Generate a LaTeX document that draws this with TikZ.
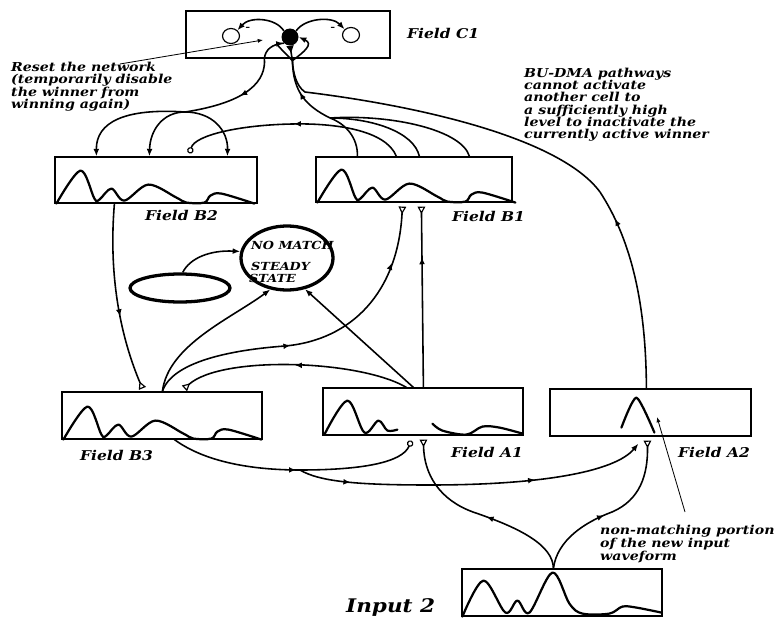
\documentclass[tikz,border=0pt]{standalone}
\usepackage{fontspec}
\newfontfamily\lblfont{DejaVu Serif}[FakeStretch=1.15]
\usetikzlibrary{arrows.meta,decorations.markings,calc,shapes.geometric}
\newlength\pxu
\setlength\pxu{0.03cm}

\tikzset{
  fieldbox/.style={draw, line width=1pt, inner sep=0pt, minimum width=200\pxu, minimum height=47\pxu},
  wave/.style={line width=1.9pt, line join=round, line cap=round},
  conn/.style={line width=1.35pt},
  pointer/.style={line width=0.7pt},
  flabel/.style={font=\lblfont\bfseries\itshape\fontsize{11.5}{12}\selectfont, inner sep=0pt, anchor=west},
  note/.style={font=\lblfont\bfseries\itshape\fontsize{10.5}{10}\selectfont, inner sep=0pt, align=left, anchor=north west},
  statefont/.style={font=\lblfont\bfseries\itshape\fontsize{9.5}{9}\selectfont, inner sep=0pt, anchor=west},
  fat/.style={draw, ellipse, line width=2.8pt, inner sep=0pt},
  tipL/.style={-{Latex[length=6.5pt,width=5pt]}},
  synopen/.style={-{Triangle[open,reversed,length=6.5pt,width=6.5pt,line width=1pt]}},
  synfill/.style={-{Triangle[reversed,length=6pt,width=6pt]}},
  circopen/.style={-{Circle[open,length=5.5pt,width=5.5pt,line width=1pt]}},
  midarrow/.style={postaction={decorate}, decoration={markings,
      mark=at position #1 with {\arrow{Latex[length=6pt,width=5pt]}}}},
  twoarrows/.style 2 args={postaction={decorate}, decoration={markings,
      mark=at position #1 with {\arrow{Latex[length=6pt,width=5pt]}},
      mark=at position #2 with {\arrow{Latex[length=6pt,width=5pt]}}}},
  % activity profiles, drawn from the lower left corner of a field
  bprofile/.pic={\draw[wave] plot[smooth,tension=0.55] coordinates
      {(2,0) (26,-33) (40,-5) (45,-4) (57,-15) (70,-3) (94,-19) (122,-6)
       (132,-1) (150,-1) (156,-8) (167,-10) (200,0)};},
  inprofile/.pic={\draw[wave] plot[smooth,tension=0.55] coordinates
      {(1,0) (22,-36) (44,-4) (56,-16) (68,-4) (91,-44) (108,-13) (121,-3)
       (148,-3) (161,-10) (175,-9) (200,-4)};},
  a1left/.pic={\draw[wave] plot[smooth,tension=0.55] coordinates
      {(2,-1) (25,-35) (42,-3) (56,-15) (65,-5) (75,-6)};},
  a1right/.pic={\draw[wave] plot[smooth,tension=0.55] coordinates
      {(110,-12) (120,-5) (144,-1) (160,-9) (177,-8) (200,-2)};},
  a2peak/.pic={\draw[wave] plot[smooth,tension=0.4] coordinates
      {(72,-9) (87,-39) (105,-4)};},
}

\begin{document}
\begin{tikzpicture}[x=0.03cm,y=-0.03cm]
\useasboundingbox (0,0) rectangle (775,619);
\fill[white] (0,0) rectangle (775,619);

% ---------- fields ----------
\node[fieldbox, minimum width=204\pxu] (c1) at (288,34.5) {};
\node[fieldbox, minimum width=202\pxu, minimum height=46\pxu] (b2) at (156,180) {};
\node[fieldbox, minimum width=196\pxu, minimum height=45\pxu] (b1) at (414,179.5) {};
\node[fieldbox] (b3) at (162,415.5) {};
\node[fieldbox] (a1) at (423,411.5) {};
\node[fieldbox, minimum width=201\pxu] (a2) at (650.5,412.5) {};
\node[fieldbox] (in2) at (562,592.5) {};

\pic at (b2.south west) {bprofile};
\pic at (b1.south west) {bprofile};
\pic at (b3.south west) {bprofile};
\pic at (in2.south west) {inprofile};
\pic at (a1.south west) {a1left};
\pic at (a1.south west) {a1right};
\pic at (a2.south west) {a2peak};

% ---------- labels ----------
\node[flabel] (lc1) at (407,33) {Field C1};
\node[flabel] (lb2) at (145,215) {Field B2};
\node[flabel] (lb1) at (452,216) {Field B1};
\node[flabel] (lb3) at (80,455) {Field B3};
\node[flabel] (la1) at (451,452) {Field A1};
\node[flabel] (la2) at (678,452) {Field A2};
\node[flabel, font=\lblfont\bfseries\itshape\fontsize{16}{18}\selectfont] (lin) at (346,607) {Input 2};

\node[note] (reset) at (11,62) {Reset the network\\(temporarily disable\\the winner from\\winning again)};
\node[note, font=\lblfont\bfseries\itshape\fontsize{10.5}{10.4}\selectfont] (budma) at (524,68)
  {BU-DMA pathways\\cannot activate\\another cell to\\a sufficiently high\\level to inactivate the\\currently active winner};
\node[note] (nonm) at (600,525)
  {non-matching portion\\of the new input\\waveform};

% ---------- state ellipses ----------
\node[statefont] (tnm) at (251,245) {NO MATCH};
\node[statefont] (tst) at (251,266) {STEADY};
\node[statefont] (tsa) at (249,278) {STATE};
\node[fat, minimum width=92\pxu, minimum height=64\pxu] (nm) at (287,258) {};
\node[fat, minimum width=100\pxu, minimum height=28\pxu] (nel) at (180,288) {};

% ---------- inside field C1 ----------
\node[circle, fill, inner sep=0pt, minimum size=17\pxu] (dot) at (290,37) {};
\node[draw, ellipse, line width=1pt, minimum width=17\pxu, minimum height=15\pxu] (cl) at (231,36) {};
\node[draw, ellipse, line width=1pt, minimum width=17\pxu, minimum height=15\pxu] (cr) at (351,35) {};
\node[font=\bfseries, inner sep=0pt] (ml) at (248,29) {-};
\node[font=\bfseries, inner sep=0pt] (mr) at (333,29) {-};
\draw[conn, tipL] (dot.north west) .. controls (276,18) and (250,16) .. (cl.north east);
\draw[conn, tipL] (dot.north east) .. controls (305,18) and (332,16) .. (cr.north west);

% ---------- ports ----------
\coordinate (c1l) at ($(c1.south west)+(79,0)$);
\coordinate (c1s) at ($(c1.south west)+(107,2)$);
\coordinate (b2p1) at ($(b2.north west)+(42,0)$);
\coordinate (b2p2) at ($(b2.north west)+(95,0)$);
\coordinate (b2p3) at ($(b2.north west)+(173,0)$);
\coordinate (b2in) at ($(b2.north west)+(135,-3)$);
\coordinate (b2out) at ($(b2.south west)+(60,0)$);
\coordinate (b1t1) at ($(b1.north west)+(42,0)$);
\coordinate (b1t2) at ($(b1.north west)+(81,0)$);
\coordinate (b1t3) at ($(b1.north west)+(104,0)$);
\coordinate (b1t4) at ($(b1.north west)+(154,0)$);
\coordinate (b1s1) at ($(b1.south west)+(87,4)$);
\coordinate (b1s2) at ($(b1.south west)+(106,4)$);
\coordinate (b3t1) at ($(b3.north west)+(81,-3)$);
\coordinate (b3t2) at ($(b3.north west)+(123,-3)$);
\coordinate (b3out) at ($(b3.north west)+(101,0)$);
\coordinate (b3b) at ($(b3.south west)+(113,0)$);
\coordinate (a1o1) at ($(a1.north west)+(101,0)$);
\coordinate (a1o2) at ($(a1.north west)+(91,0)$);
\coordinate (a1o3) at ($(a1.north west)+(84,0)$);
\coordinate (a1ci) at ($(a1.south west)+(89,5)$);
\coordinate (a1tri) at ($(a1.south west)+(101,4)$);
\coordinate (a2t) at ($(a2.north west)+(97,0)$);
\coordinate (a2f) at ($(a2.south west)+(89,7)$);
\coordinate (a2tri) at ($(a2.south west)+(98,4)$);
\coordinate (in2t) at ($(in2.north west)+(92,0)$);
\coordinate (jb) at (185,112);
\coordinate (kb) at (330,118);
\coordinate (jb3) at (300,470);
\coordinate (resetend) at (263,40);
\coordinate (resetstart) at (120,64);
\coordinate (nonmstart) at (685,512);
\coordinate (nonmend) at (657,417);

% ---------- C1 terminals ----------
\draw[conn] (dot.south west) .. controls (272,44) and (265,50) .. (c1l);
\draw[conn, synfill] (c1s) -- (dot.south);
\draw[conn, tipL] (c1s) .. controls (284,52) and (276,44) .. (dot.south west);
\draw[conn, tipL] (c1s) .. controls (304,52) and (314,44) .. (dot.east);

% ---------- C1 -> B2 reset signals ----------
\draw[conn, midarrow=0.45] (c1l) .. controls (266,80) and (250,102) .. (jb);
\draw[conn, tipL] (jb) .. controls (125,108) and (96,122) .. (b2p1);
\draw[conn, tipL] (jb) .. controls (163,112) and (150,130) .. (b2p2);
\draw[conn, tipL] (jb) .. controls (212,112) and (228,130) .. (b2p3);

% ---------- B1 -> C1 bundle ----------
\draw[conn] (b1t1) .. controls (358,138) and (346,124) .. (kb);
\draw[conn] (b1t3) .. controls (414,132) and (372,118) .. (kb);
\draw[conn] (b1t4) .. controls (462,130) and (392,114) .. (kb);
\draw[conn, midarrow=0.55] (kb) .. controls (306,106) and (293,92) .. (c1s);

% ---------- A2 -> C1 (BU-DMA) ----------
\draw[conn, midarrow=0.85] (a2t) .. controls (646,300) and (630,238) .. (600,192);
\draw[conn] (600,192) .. controls (560,138) and (420,106) .. (305,92) .. controls (296,86) and (293,72) .. (c1s);

% ---------- B1 -> B2 ----------
\draw[conn, midarrow=0.5, circopen] (b1t2) .. controls (386,130) and (335,123) .. (292,124)
      .. controls (240,125) and (195,135) .. (b2in);

% ---------- A1 -> B1 ----------
\draw[conn, midarrow=0.72, synopen] (a1o1) -- (b1s2);

% ---------- B3 -> B1 ----------
\draw[conn, twoarrows={0.42}{0.83}, synopen] (b3out) .. controls (172,362) and (230,350) .. (285,346)
      .. controls (352,340) and (398,292) .. (b1s1);

% ---------- to the NO MATCH state ----------
\draw[conn, tipL] (b3out) .. controls (168,345) and (232,318) .. (nm.242);
\draw[conn, tipL] (a1o2) -- (nm.300);
\draw[conn, tipL] (nel.80) .. controls (190,258) and (210,250) .. (nm.172);

% ---------- A1 -> B3, B2 -> B3 ----------
\draw[conn, midarrow=0.5, synopen] (a1o3) .. controls (360,360) and (222,355) .. (b3t2);
\draw[conn, midarrow=0.6, synopen] (b2out) .. controls (108,280) and (122,340) .. (b3t1);

% ---------- B3 -> A1, A2 ----------
\draw[conn, midarrow=0.97] (b3b) .. controls (205,462) and (252,470) .. (jb3);
\draw[conn, circopen] (jb3) .. controls (360,470) and (402,463) .. (a1ci);
\draw[conn, twoarrows={0.15}{0.68}, tipL] (jb3) .. controls (320,482) and (360,485) .. (430,485)
      .. controls (540,485) and (615,472) .. (a2f);

% ---------- Input 2 -> A1, A2 ----------
\draw[conn, midarrow=0.45, synopen] (in2t) .. controls (553,545) and (520,528) .. (473,512)
      .. controls (440,500) and (424,475) .. (a1tri);
\draw[conn, midarrow=0.45, synopen] (in2t) .. controls (557,540) and (585,522) .. (612,512)
      .. controls (640,500) and (648,475) .. (a2tri);

% ---------- annotation pointers ----------
\draw[pointer, -{Latex[length=4.5pt,width=3.5pt]}] (resetstart) -- (resetend);
\draw[pointer, -{Latex[length=4.5pt,width=3.5pt]}] (nonmstart) -- (nonmend);

\end{tikzpicture}
\end{document}
